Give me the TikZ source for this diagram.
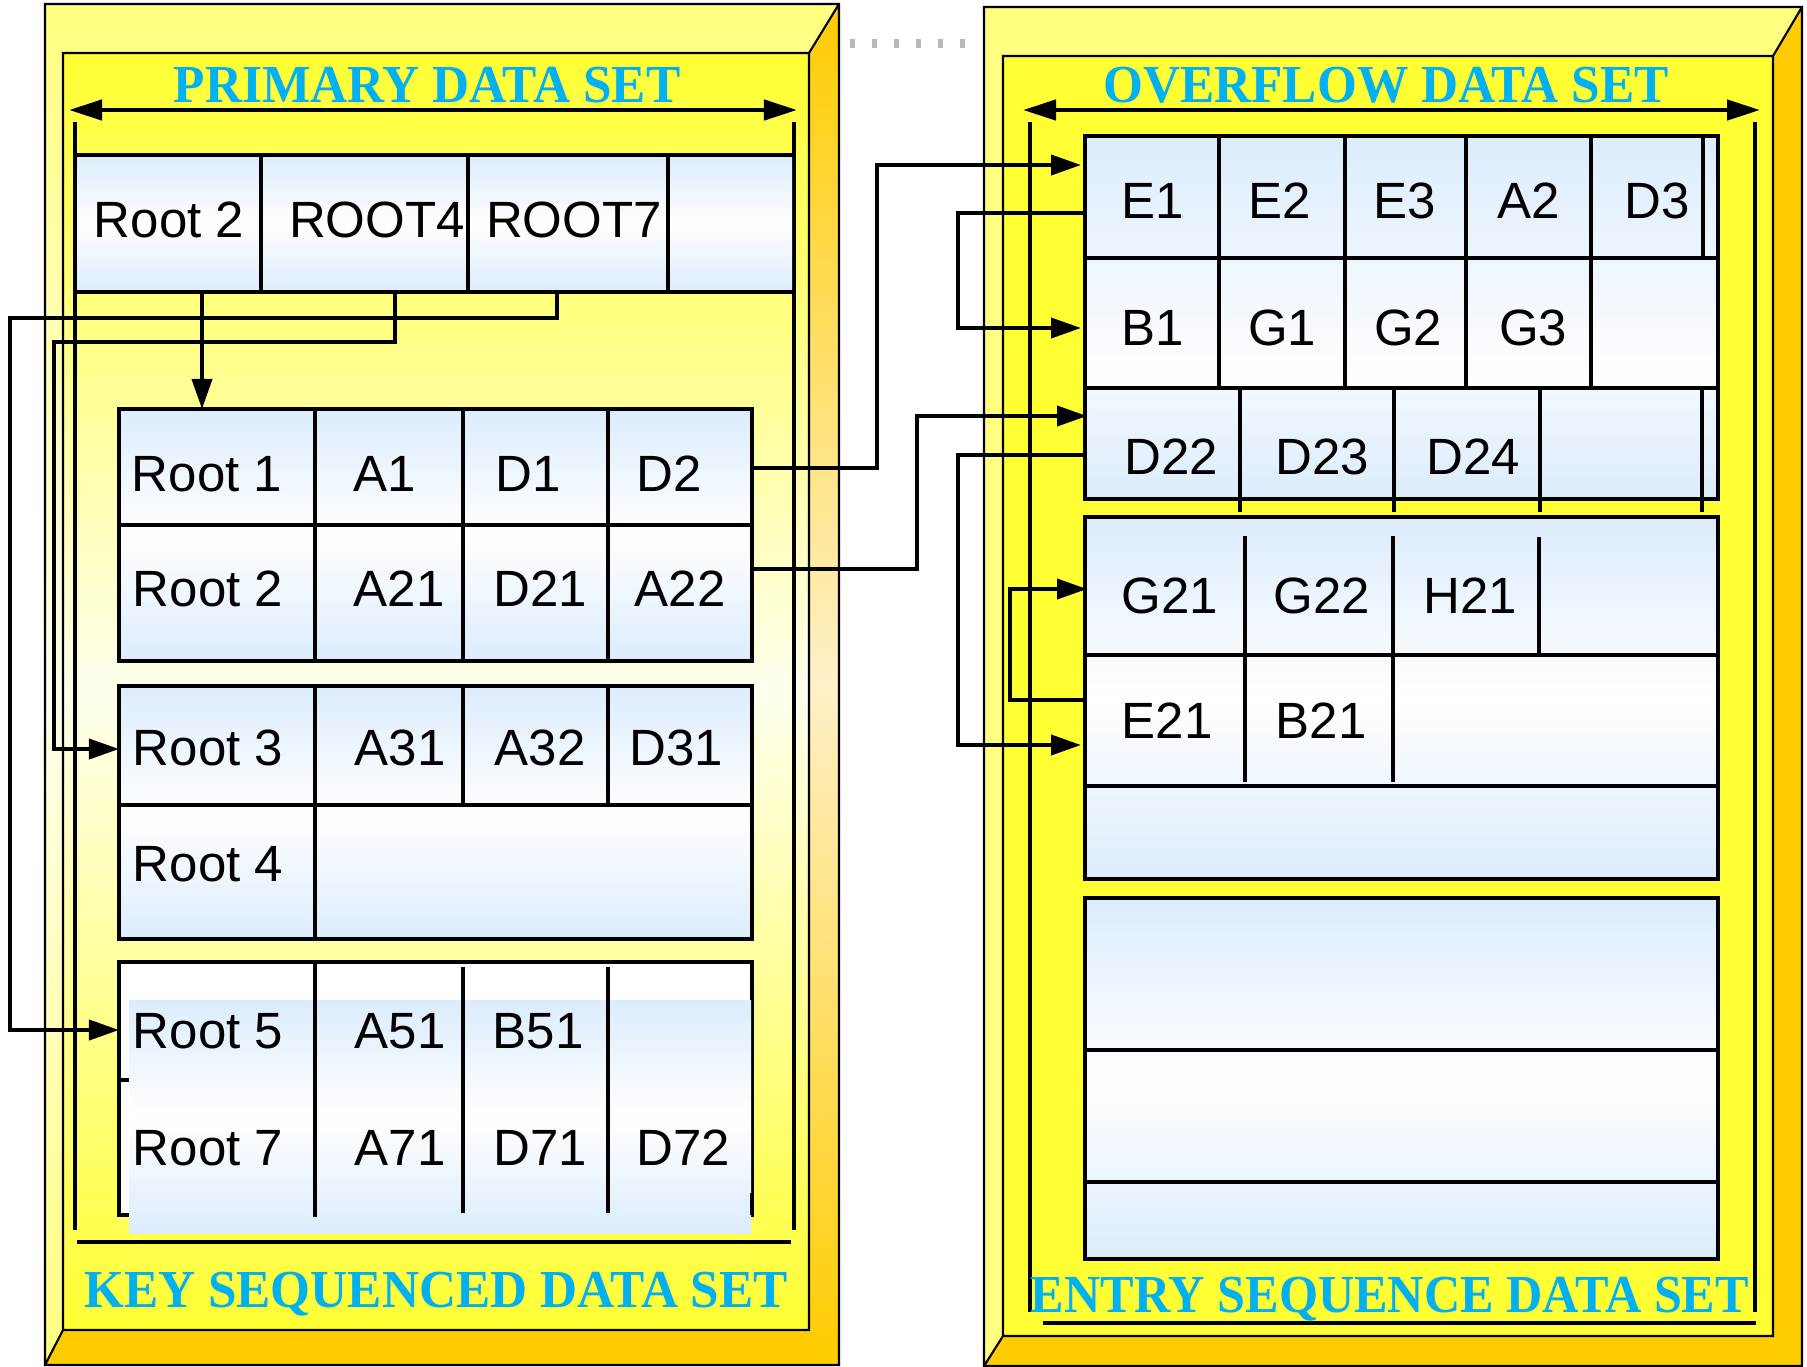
\documentclass[tikz,border=0pt]{standalone}
\usepackage{fontspec}
\usetikzlibrary{arrows.meta}
\newfontfamily\cellfont{Liberation Sans}
\newfontfamily\titlefont{Liberation Serif}
\definecolor{dsyellow}{RGB}{255,255,51}
\definecolor{dspale}{RGB}{255,255,128}
\definecolor{dscream}{RGB}{255,255,238}
\definecolor{dsorange}{RGB}{255,204,0}
\definecolor{dspeach}{RGB}{255,240,200}
\definecolor{dsblue}{RGB}{220,236,252}
\definecolor{dscyan}{RGB}{0,176,240}

\begin{document}
\begin{tikzpicture}[x=0.01cm, y=-0.01cm]
  \tikzset{
    cell/.style={font=\cellfont\fontsize{14.5}{17}\selectfont, inner sep=0pt, anchor=base},
    dstitle/.style={font=\titlefont\bfseries\fontsize{15.2}{18}\selectfont, text=dscyan, inner sep=0pt, anchor=base},
    outl/.style={draw=black, line width=0.6pt},
    rec/.style={top color=dsblue, bottom color=dsblue, middle color=white},
    bord/.style={line width=1.4pt},
    div/.style={line width=1.1pt},
    dsconn/.style={line width=1.1pt, -{Triangle[length=0.3cm,width=0.2cm]}},
    dsspan/.style={line width=1.3pt, {Triangle[length=0.33cm,width=0.2cm]}-{Triangle[length=0.33cm,width=0.2cm]}}
  }
  \useasboundingbox (0,0) rectangle (1807,1366);

  % primary / key sequenced data set frame
  \shade[top color=dspale, bottom color=dspale, middle color=dscream] (45,4) rectangle (839,1365);
  \shade[top color=dsyellow, bottom color=dsyellow, middle color=dscream] (63,53) rectangle (809,1330);
  \shade[top color=dsorange, bottom color=dsorange, middle color=dspeach] (809,53) -- (839,4) -- (839,1365) -- (809,1330) -- cycle;
  \fill[dsorange] (45,1365) -- (63,1330) -- (809,1330) -- (839,1365) -- cycle;
  \draw[outl] (45,4) rectangle (839,1365) (63,53) rectangle (809,1330) (809,53) -- (839,4) (63,1330) -- (45,1365);

  % overflow / entry sequence data set frame
  \fill[dspale] (984,7) rectangle (1802,1366);
  \fill[dsyellow] (1003,56) rectangle (1773,1336);
  \fill[dsorange] (1773,56) -- (1802,7) -- (1802,1366) -- (1773,1336) -- cycle;
  \fill[dsorange] (984,1366) -- (1003,1336) -- (1773,1336) -- (1802,1366) -- cycle;
  \draw[outl] (984,7) rectangle (1802,1366) (1003,56) rectangle (1773,1336) (1773,56) -- (1802,7) (1003,1336) -- (984,1366);

  \draw[gray!55, line width=0.09cm, dash pattern=on 0.05cm off 0.17cm] (850,43) -- (975,43);

  % left side lines
  \draw[dsspan] (69,110) -- (797,110);
  \draw[bord] (75,122) -- (75,1230) (794,122) -- (794,1230) (77,1242) -- (791,1242);
  \draw[dsspan] (1023,110) -- (1760,110);
  \draw[bord] (1030,122) -- (1030,1312) (1755,122) -- (1755,1312) (1043,1323) -- (1756,1323);

  % index record
  \shade[rec] (77,155) rectangle (792,292);
  \draw[bord] (75,155) -- (794,155) (75,292) -- (794,292);
  \foreach \x in {261,468,668} \draw[div] (\x,155) -- (\x,292);

  % control intervals
  \shade[rec] (119,409) rectangle (752,661);
  \draw[bord] (119,409) rectangle (752,661) (119,525) -- (752,525);
  \foreach \x in {315,463,608} \draw[div] (\x,409) -- (\x,661);

  \shade[rec] (119,686) rectangle (752,939);
  \draw[bord] (119,686) rectangle (752,939) (119,805) -- (752,805) (315,686) -- (315,939);
  \foreach \x in {463,608} \draw[div] (\x,686) -- (\x,805);

  \fill[white] (119,962) rectangle (752,1215);
  \draw[bord] (119,962) rectangle (752,1215) (119,1080) -- (752,1080);
  \shade[rec] (129,1000) rectangle (751,1233);
  \draw[bord] (752,962) -- (752,1000) (752,1193) -- (752,1215);
  \draw[div] (315,963) -- (315,1217) (463,967) -- (463,1213) (608,967) -- (608,1213);

  % overflow blocks
  \shade[top color=dsblue, bottom color=white] (1085,136) rectangle (1718,388);
  \draw[bord] (1085,136) rectangle (1718,388) (1085,258) -- (1718,258);
  \foreach \x in {1219,1345,1466,1591} \draw[div] (\x,136) -- (\x,388);
  \draw[div] (1703,136) -- (1703,258);

  \shade[top color=dsblue!40, bottom color=dsblue] (1085,388) rectangle (1718,499);
  \draw[bord] (1085,388) rectangle (1718,499);
  \foreach \x in {1240,1394,1540,1702} \draw[div] (\x,388) -- (\x,512);

  \shade[rec] (1085,517) rectangle (1718,879);
  \draw[bord] (1085,517) rectangle (1718,879) (1085,655) -- (1718,655) (1085,786) -- (1718,786);
  \draw[div] (1245,536) -- (1245,782) (1393,536) -- (1393,782) (1539,537) -- (1539,654);

  \shade[rec] (1085,898) rectangle (1718,1259);
  \draw[bord] (1085,898) rectangle (1718,1259) (1085,1050) -- (1718,1050) (1085,1182) -- (1718,1182);

  % titles
  \node[dstitle] (ttlPrim) at (427,102) {\scalebox{0.96}[1]{PRIMARY DATA SET}};
  \node[dstitle] (ttlKey) at (436,1307) {\scalebox{0.96}[1]{KEY SEQUENCED DATA SET}};
  \node[dstitle] (ttlOver) at (1386,102) {\scalebox{0.96}[1]{OVERFLOW DATA SET}};
  \node[dstitle] (ttlEntry) at (1390,1312) {\scalebox{0.94}[1]{ENTRY SEQUENCE DATA SET}};

  % record texts
  \foreach \x/\t [count=\i] in {169/Root 2,377/ROOT4,574/ROOT7}
    \node[cell] (top\i) at (\x,237) {\t};
  \foreach \x/\t [count=\i] in {207/Root 1,385/A1,528/D1,669/D2}
    \node[cell] (ra\i) at (\x,491) {\t};
  \foreach \x/\t [count=\i] in {208/Root 2,399/A21,540/D21,680/A22}
    \node[cell] (rb\i) at (\x,606) {\t};
  \foreach \x/\t [count=\i] in {208/Root 3,400/A31,540/A32,676/D31}
    \node[cell] (rc\i) at (\x,765) {\t};
  \node[cell] (rd1) at (208,881) {Root 4};
  \foreach \x/\t [count=\i] in {208/Root 5,400/A51,538/B51}
    \node[cell] (re\i) at (\x,1048) {\t};
  \foreach \x/\t [count=\i] in {208/Root 7,400/A71,540/D71,683/D72}
    \node[cell] (rf\i) at (\x,1165) {\t};

  \foreach \x/\t [count=\i] in {1153/E1,1280/E2,1405/E3,1529/A2,1657/D3}
    \node[cell] (oa\i) at (\x,218) {\t};
  \foreach \x/\t [count=\i] in {1153/B1,1282/G1,1408/G2,1533/G3}
    \node[cell] (ob\i) at (\x,345) {\t};
  \foreach \x/\t [count=\i] in {1171/D22,1322/D23,1473/D24}
    \node[cell] (oc\i) at (\x,474) {\t};
  \foreach \x/\t [count=\i] in {1170/G21,1322/G22,1470/H21}
    \node[cell] (od\i) at (\x,613) {\t};
  \foreach \x/\t [count=\i] in {1167/E21,1321/B21}
    \node[cell] (oe\i) at (\x,738) {\t};

  % pointers
  \coordinate (r2out) at (202,292);   \coordinate (r1in) at (202,409);
  \coordinate (r4out) at (395,292);   \coordinate (r3in) at (119,749);
  \coordinate (r7out) at (557,292);   \coordinate (r5in) at (119,1030);
  \coordinate (d2out) at (750,468);   \coordinate (e1in) at (1081,165);
  \coordinate (a22out) at (750,569);  \coordinate (d22in) at (1087,416);
  \coordinate (e1out) at (1085,213);  \coordinate (b1in) at (1081,328);
  \coordinate (d22out) at (1085,455); \coordinate (e21in) at (1081,745);
  \coordinate (e21out) at (1085,700); \coordinate (g21in) at (1087,589);

  \draw[dsconn] (r2out) -- (r1in);
  \draw[dsconn] (r4out) |- (54,342) |- (r3in);
  \draw[dsconn] (r7out) |- (10,318) |- (r5in);
  \draw[dsconn] (d2out) -| (877,165) -- (e1in);
  \draw[dsconn] (a22out) -| (917,416) -- (d22in);
  \draw[dsconn] (e1out) -| (958,328) -- (b1in);
  \draw[dsconn] (d22out) -| (958,745) -- (e21in);
  \draw[dsconn] (e21out) -| (1010,589) -- (g21in);
\end{tikzpicture}
\end{document}
